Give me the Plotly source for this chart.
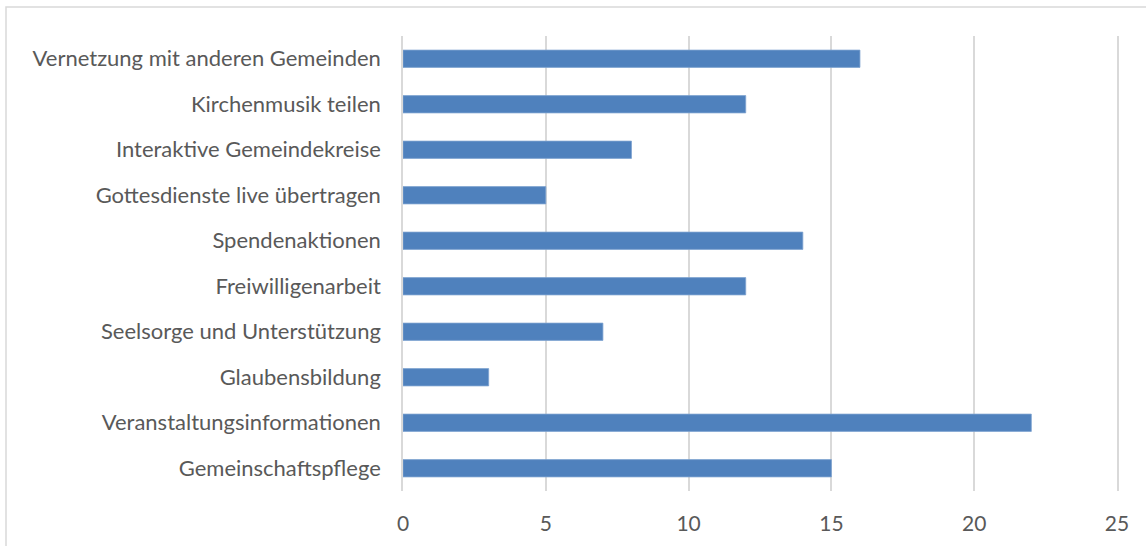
import plotly.graph_objects as go

categories = [
    "Gemeinschaftspflege",
    "Veranstaltungsinformationen",
    "Glaubensbildung",
    "Seelsorge und Unterstützung",
    "Freiwilligenarbeit",
    "Spendenaktionen",
    "Gottesdienste live übertragen",
    "Interaktive Gemeindekreise",
    "Kirchenmusik teilen",
    "Vernetzung mit anderen Gemeinden",
]
values = [15, 22, 3, 7, 12, 14, 5, 8, 12, 16]
x_ticks = [0, 5, 10, 15, 20, 25]

W, H = 1146, 546
ML, MR, MT, MB = 403, 29, 36, 55

fig = go.Figure(
    go.Bar(
        x=values,
        y=categories,
        orientation="h",
        width=0.38,
        marker=dict(color="#4f81bd", line=dict(color="#7fa3d0", width=0.8)),
    )
)

font_family = "Lato, 'Open Sans', sans-serif"
grid_color = "#d9d9d9"

fig.update_layout(
    width=W,
    height=H,
    margin=dict(l=ML, r=MR, t=MT, b=MB, pad=0),
    plot_bgcolor="white",
    paper_bgcolor="white",
    showlegend=False,
    font=dict(family=font_family, size=22, color="#595959"),
    xaxis=dict(
        range=[0, 25],
        tickvals=x_ticks,
        showgrid=True,
        gridcolor=grid_color,
        gridwidth=1.5,
        zeroline=False,
        showline=False,
        ticks="",
        ticklabelstandoff=18,
        tickfont=dict(size=21, color="#595959"),
        fixedrange=True,
    ),
    yaxis=dict(
        categoryorder="array",
        categoryarray=categories,
        range=[-0.5, len(categories) - 0.5],
        showgrid=False,
        zeroline=False,
        # vertical lines at x = 0 and x = 25
        showline=True,
        mirror=True,
        linecolor=grid_color,
        linewidth=1.5,
        ticks="",
        ticklabelstandoff=16,
        tickfont=dict(size=22, color="#595959"),
        fixedrange=True,
    ),
    shapes=[
        # chart frame (left and top edges fall inside the page)
        dict(
            type="rect",
            xref="paper",
            yref="paper",
            x0=(6 - ML) / (W - ML - MR),
            x1=(W + 10 - ML) / (W - ML - MR),
            y0=-(MB + 10) / (H - MT - MB),
            y1=1 + (MT - 7) / (H - MT - MB),
            line=dict(color="#d9d9d9", width=1.5),
            layer="below",
        )
    ],
)

fig.write_html("out.html")
